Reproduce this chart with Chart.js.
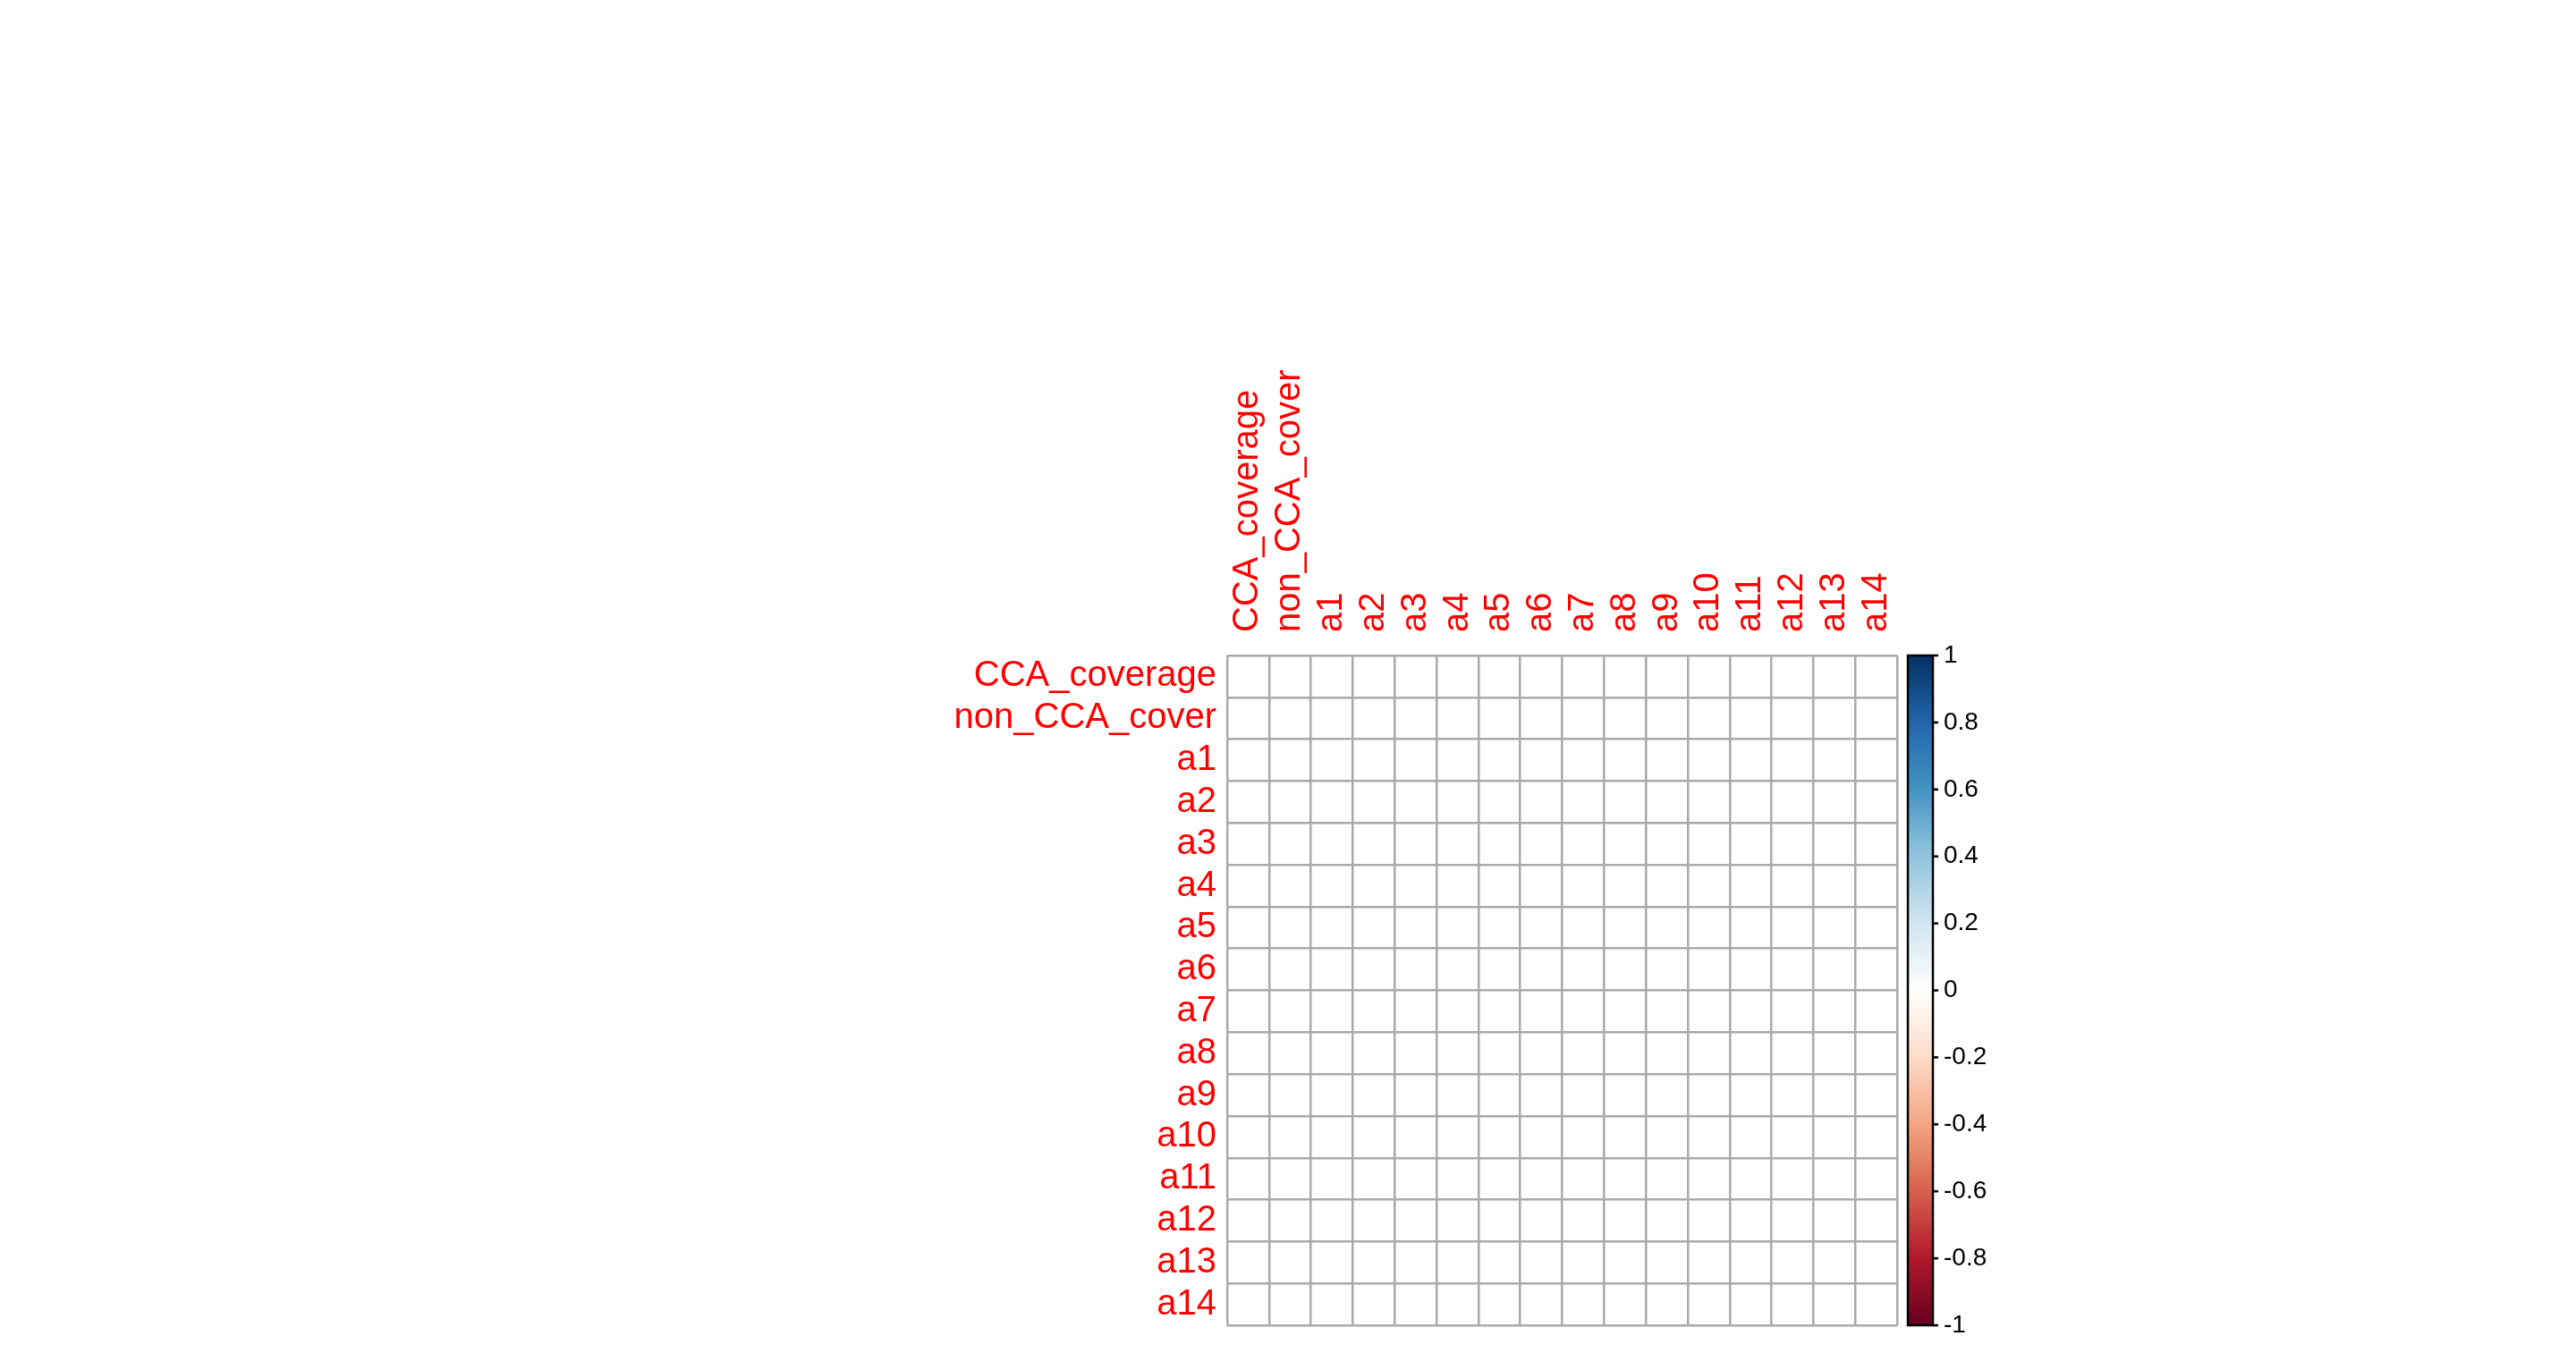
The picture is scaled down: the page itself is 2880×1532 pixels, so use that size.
<!DOCTYPE html>
<html>
<head>
<meta charset="utf-8">
<script src="https://cdn.jsdelivr.net/npm/chart.js@4.4.0/dist/chart.umd.min.js"></script>
<style>
  html, body { margin: 0; padding: 0; background: #fff; }
  #wrap { width: 2880px; height: 1532px; }
</style>
</head>
<body>
<div id="wrap"><canvas id="corrChart"></canvas></div>
<script>
const variables = ['CCA_coverage', 'non_CCA_cover', 'a1', 'a2', 'a3', 'a4', 'a5', 'a6', 'a7', 'a8', 'a9', 'a10', 'a11', 'a12', 'a13', 'a14'];

// upper triangle, row by row (values right of the diagonal)
const upperRows = [
    [-0.46, 0.15, 0.38, 0.15, -0.05, -0.05, -0.07, -0.10, -0.20, -0.05, -0.16, -0.17, -0.11, -0.05, -0.09],
    [0.19, -0.27, 0.09, -0.14, -0.10, 0.13, -0.05, 0.14, 0.00, 0.19, 0.16, -0.21, 0.15, 0.11],
    [0.21, 0.26, 0.08, -0.11, -0.05, 0.00, -0.24, -0.17, 0.00, 0.24, -0.17, 0.21, 0.29],
    [0.16, 0.15, -0.07, 0.00, -0.10, -0.15, -0.05, 0.02, -0.10, -0.19, -0.09, 0.15],
    [0.08, -0.20, -0.08, 0.03, -0.08, -0.05, -0.02, -0.09, -0.09, -0.03, 0.13],
    [0.32, -0.11, 0.48, -0.05, 0.00, 0.00, 0.17, 0.34, 0.03, 0.32],
    [0.03, 0.20, 0.20, 0.02, 0.01, 0.14, 0.15, 0.01, 0.00],
    [-0.05, 0.09, 0.00, -0.02, -0.17, 0.05, 0.00, -0.05],
    [0.00, -0.09, -0.13, 0.16, 0.15, 0.09, 0.01],
    [0.00, 0.34, -0.01, 0.16, 0.00, -0.15],
    [-0.05, -0.10, -0.05, 0.10, -0.01],
    [0.02, -0.05, 0.00, 0.09],
    [0.21, 0.09, 0.27],
    [0.00, 0.11],
    [-0.23]
];

const colorbarTicks = [1, 0.8, 0.6, 0.4, 0.2, 0, -0.2, -0.4, -0.6, -0.8, -1];
const palette = ['#67001F', '#B2182B', '#D6604D', '#F4A582', '#FDDBC7', '#FFFFFF', '#D1E5F0', '#92C5DE', '#4393C3', '#2166AC', '#053061'];

const n = variables.length;
const matrix = [];
for (let i = 0; i < n; i++) matrix.push(new Array(n).fill(1));
upperRows.forEach((row, i) => {
    row.forEach((v, k) => {
        const j = i + 1 + k;
        matrix[i][j] = v;
        matrix[j][i] = v;
    });
});

function hexToRgb(h) {
    return [parseInt(h.slice(1, 3), 16), parseInt(h.slice(3, 5), 16), parseInt(h.slice(5, 7), 16)];
}
function corrColor(r) {
    const t = (r + 1) / 2 * (palette.length - 1);
    const i = Math.min(Math.floor(t), palette.length - 2);
    const f = t - i;
    const a = hexToRgb(palette[i]), b = hexToRgb(palette[i + 1]);
    const c = a.map((v, k) => Math.round(v + (b[k] - v) * f));
    return `rgb(${c[0]},${c[1]},${c[2]})`;
}

// note: bubble charts read "r" as radius, so the correlation goes in "corr"
const points = [];
for (let i = 0; i < n; i++) {
    for (let j = 0; j < n; j++) {
        points.push({ x: j + 0.5, y: i + 0.5, corr: matrix[i][j] });
    }
}

const LABEL_FONT = '40px "Liberation Sans", Arial, sans-serif';
const TICK_FONT = '28px "Liberation Sans", Arial, sans-serif';

const labelPlugin = {
    id: 'corrLabels',
    afterDraw(chart) {
        const { ctx, chartArea: a, scales } = chart;
        ctx.save();
        ctx.fillStyle = '#FF0000';
        ctx.font = LABEL_FONT;
        ctx.textAlign = 'right';
        ctx.textBaseline = 'middle';
        variables.forEach((v, i) => {
            ctx.fillText(v, a.left - 12, scales.y.getPixelForValue(i + 0.5));
        });
        variables.forEach((v, j) => {
            ctx.save();
            ctx.translate(scales.x.getPixelForValue(j + 0.5), a.top - 26);
            ctx.rotate(-Math.PI / 2);
            ctx.textAlign = 'left';
            ctx.fillText(v, 0, 0);
            ctx.restore();
        });

        // colour legend
        const x0 = a.right + 12, w = 28, top = a.top, h = a.bottom - a.top;
        const grad = ctx.createLinearGradient(0, top, 0, top + h);
        palette.slice().reverse().forEach((c, k) => grad.addColorStop(k / (palette.length - 1), c));
        ctx.fillStyle = grad;
        ctx.fillRect(x0, top, w, h);
        ctx.strokeStyle = '#000';
        ctx.lineWidth = 2.5;
        ctx.strokeRect(x0, top, w, h);
        ctx.fillStyle = '#000';
        ctx.font = TICK_FONT;
        ctx.textAlign = 'left';
        colorbarTicks.forEach(t => {
            const y = top + (1 - t) / 2 * h;
            ctx.beginPath();
            ctx.moveTo(x0 + w, y);
            ctx.lineTo(x0 + w + 6, y);
            ctx.stroke();
            ctx.fillText(String(t), x0 + w + 12, y);
        });
        ctx.restore();
    }
};

new Chart(document.getElementById('corrChart'), {
    type: 'bubble',
    data: {
        datasets: [{
            data: points,
            backgroundColor: c => corrColor(c.raw.corr),
            borderWidth: 0,
            radius: c => {
                const xs = c.chart.scales.x;
                const cell = xs.getPixelForValue(1) - xs.getPixelForValue(0);
                return cell / 2 * 0.93 * Math.sqrt(Math.abs(c.raw.corr));
            },
            hoverRadius: 0
        }]
    },
    options: {
        responsive: true,
        maintainAspectRatio: false,
        animation: false,
        layout: { padding: { left: 1372, top: 733, right: 759, bottom: 50 } },
        plugins: { legend: { display: false }, tooltip: { enabled: false } },
        scales: {
            x: {
                type: 'linear', min: 0, max: n,
                ticks: { display: false, stepSize: 1 },
                grid: { color: '#AAAAAA', lineWidth: 2.5, drawTicks: false },
                border: { display: false }
            },
            y: {
                type: 'linear', min: 0, max: n, reverse: true,
                ticks: { display: false, stepSize: 1 },
                grid: { color: '#AAAAAA', lineWidth: 2.5, drawTicks: false },
                border: { display: false }
            }
        }
    },
    plugins: [labelPlugin]
});
</script>
</body>
</html>
